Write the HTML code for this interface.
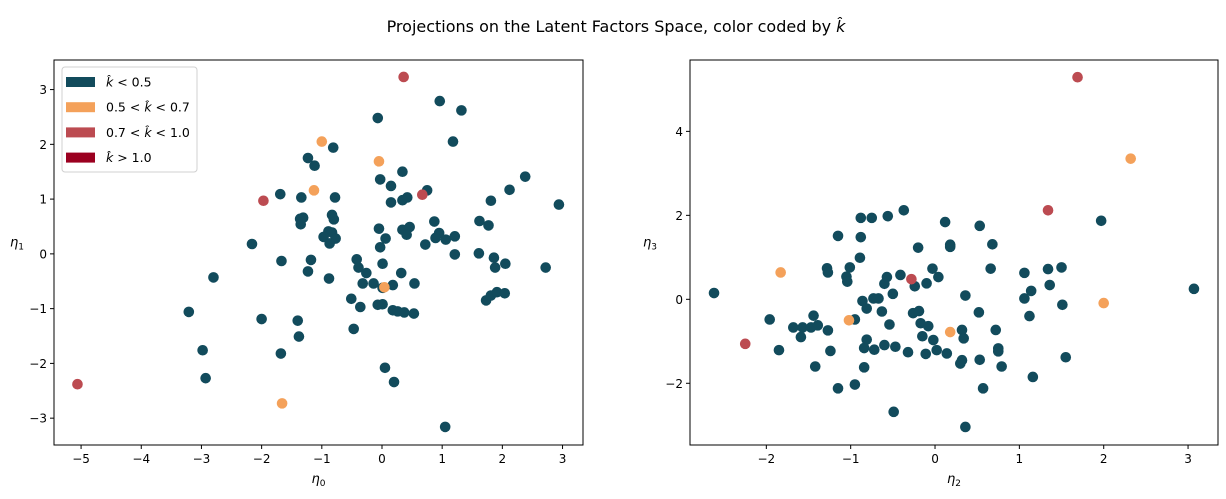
<!DOCTYPE html>
<html><head><meta charset="utf-8"><style>
body{margin:0;background:#fff;}
svg{display:block;font-family:"DejaVu Sans","Liberation Sans",sans-serif;}
</style></head><body>
<svg id="fig" width="1226" height="499" viewBox="0 0 1226 499" xmlns="http://www.w3.org/2000/svg">
<text x="616" y="32" font-size="16" text-anchor="middle">Projections on the Latent Factors Space, color coded by <tspan font-style="italic">k̂</tspan></text>
</svg>
<script>
// Left panel data (eta0, eta1)
const leftTealX=[0.96,1.32,-0.07,1.18,-0.81,-1.23,-1.12,0.34,-0.03,0.15,0.75,2.38,2.12,-1.69,-1.34,-0.78,0.15,0.34,0.42,1.81,2.94,-1.36,-1.31,-1.35,-0.83,-0.80,0.87,1.62,1.77,-0.05,0.34,0.46,0.41,-0.89,-0.83,-0.97,-0.77,-0.87,0.06,0.95,0.89,1.06,1.21,-2.16,-0.03,0.72,1.21,1.61,1.86,1.88,2.05,2.72,-1.67,-1.18,-0.42,-0.39,0.01,-0.26,0.32,-1.23,-0.88,-2.80,-0.32,-0.14,0.01,0.18,0.54,-0.51,-0.36,-0.07,0.01,0.18,0.26,0.37,0.53,1.73,1.81,1.91,2.04,-3.21,-2.00,-1.40,-1.38,-0.47,-2.98,-1.68,-2.93,0.05,0.20,1.05];
const leftTealY=[2.79,2.62,2.48,2.05,1.94,1.75,1.61,1.50,1.36,1.24,1.16,1.41,1.17,1.09,1.03,1.03,0.94,0.98,1.03,0.97,0.90,0.64,0.66,0.54,0.71,0.63,0.59,0.60,0.52,0.46,0.44,0.49,0.35,0.41,0.39,0.31,0.28,0.19,0.28,0.38,0.29,0.26,0.32,0.18,0.12,0.17,-0.01,0.01,-0.07,-0.25,-0.18,-0.25,-0.13,-0.11,-0.10,-0.25,-0.18,-0.35,-0.35,-0.32,-0.45,-0.43,-0.54,-0.54,-0.62,-0.57,-0.54,-0.82,-0.97,-0.93,-0.92,-1.03,-1.05,-1.07,-1.09,-0.85,-0.76,-0.70,-0.72,-1.06,-1.19,-1.22,-1.51,-1.37,-1.76,-1.82,-2.27,-2.08,-2.34,-3.16];
const leftOrangeX=[-1.0,-0.05,-1.13,0.04,-1.66];
const leftOrangeY=[2.05,1.69,1.16,-0.61,-2.73];
const leftRedX=[0.36,-1.97,-5.06,0.67];
const leftRedY=[3.23,0.97,-2.38,1.08];
const leftXTicks=[-5,-4,-3,-2,-1,0,1,2,3];
const leftYTicks=[-3,-2,-1,0,1,2,3];
// Right panel data (eta2, eta3)
const rightTealX=[-2.62,-1.96,-1.68,-1.57,-1.47,-1.39,-1.44,-1.59,-1.85,-1.42,-1.27,-1.24,-1.28,-1.27,-1.15,-1.15,-1.05,-1.04,-1.01,-0.95,-0.95,-0.89,-0.88,-0.88,-0.75,-0.56,-0.37,-0.86,-0.81,-0.81,-0.84,-0.84,-0.72,-0.73,-0.67,-0.63,-0.60,-0.57,-0.54,-0.60,-0.47,-0.50,-0.41,-0.49,-0.32,-0.24,-0.26,-0.19,-0.20,-0.17,-0.15,-0.11,-0.10,-0.08,-0.03,-0.02,0.04,0.02,0.12,0.14,0.18,0.18,0.32,0.34,0.32,0.30,0.36,0.36,0.52,0.53,0.53,0.57,0.66,0.68,0.72,0.75,0.75,0.79,1.06,1.06,1.14,1.12,1.16,1.34,1.36,1.50,1.51,1.55,1.97,3.07];
const rightTealY=[0.15,-0.48,-0.67,-0.67,-0.67,-0.62,-0.39,-0.90,-1.21,-1.60,-0.74,-1.23,0.74,0.64,1.51,-2.12,0.54,0.42,0.76,-0.48,-2.03,0.99,1.48,1.94,1.94,1.98,2.12,-0.04,-0.22,-0.96,-1.16,-1.62,-1.20,0.02,0.02,-0.29,0.37,0.53,-0.60,-1.09,-1.13,0.13,0.58,-2.68,-1.26,0.31,-0.33,-0.28,1.23,-0.57,-0.88,-1.30,0.38,-0.64,0.73,-0.97,0.53,-1.21,1.84,-1.29,1.30,1.25,-0.73,-0.93,-1.45,-1.53,0.09,-3.04,-0.31,1.75,-1.44,-2.12,0.73,1.31,-0.73,-1.17,-1.24,-1.60,0.63,0.02,0.20,-0.40,-1.85,0.72,0.34,0.76,-0.13,-1.38,1.87,0.25];
const rightOrangeX=[2.32,-1.83,2.00,-1.02,0.18];
const rightOrangeY=[3.35,0.64,-0.09,-0.50,-0.78];
const rightRedX=[1.69,1.34,-0.28,-2.25];
const rightRedY=[5.29,2.12,0.48,-1.06];
const rightXTicks=[-2,-1,0,1,2,3];
const rightYTicks=[-2,0,2,4];
const legendLabels=["< 0.5","0.5 < ","0.7 < ","> 1.0"];

const C_TEAL="#124b5c",C_OR="#f4a15a",C_RED="#bc4b51",C_DRED="#9b0020";
const NS="http://www.w3.org/2000/svg";
const svg=document.getElementById('fig');
function mk(tag,attrs,parent){const e=document.createElementNS(NS,tag);for(const k in attrs)e.setAttribute(k,attrs[k]);(parent||svg).appendChild(e);return e;}

function panel(p){
  const g=mk('g',{});
  
  
  const sx=v=>p.x0+(v-p.xmin)/(p.xmax-p.xmin)*(p.x1-p.x0);
  const sy=v=>p.y1-(v-p.ymin)/(p.ymax-p.ymin)*(p.y1-p.y0);
  const series=[[p.tx,p.ty,C_TEAL,'teal'],[p.ox,p.oy,C_OR,'orange'],[p.rx,p.ry,C_RED,'red']];
  series.forEach(s=>{
    for(let i=0;i<s[0].length;i++){
      const c=mk('circle',{cx:sx(s[0][i]),cy:sy(s[1][i]),r:5.3,fill:s[2]},g);
      
      
    }
  });
  const f=mk('rect',{x:p.x0,y:p.y0,width:p.x1-p.x0,height:p.y1-p.y0,fill:'none',stroke:'#000','stroke-width':1},g);
  
  
  p.xt.forEach(t=>{
    const x=sx(t);
    mk('line',{x1:x,x2:x,y1:p.y1,y2:p.y1+4,stroke:'#000'},g);
    const tx=mk('text',{x:x,y:p.y1+18,'font-size':12,'text-anchor':'middle'},g);
    tx.textContent=(t<0?'\u2212'+(-t):t);
    
    
  });
  p.yt.forEach(t=>{
    const y=sy(t);
    mk('line',{x1:p.x0-4,x2:p.x0,y1:y,y2:y,stroke:'#000'},g);
    const tx=mk('text',{x:p.x0-7,y:y+4.5,'font-size':12,'text-anchor':'end'},g);
    tx.textContent=(t<0?'\u2212'+(-t):t);
    
    
  });
  const xl=mk('text',{x:(p.x0+p.x1)/2,y:p.y1+38,'font-size':13,'text-anchor':'middle','font-style':'italic'},g);
  xl.innerHTML='η<tspan font-size="9" dy="3" font-style="normal">'+p.xs+'</tspan>';
  
  
  const yl=mk('text',{x:p.ylx,y:(p.y0+p.y1)/2-6,'font-size':13,'text-anchor':'middle','font-style':'italic'},g);
  yl.innerHTML='η<tspan font-size="9" dy="3" font-style="normal">'+p.ys+'</tspan>';
  
  
}
panel({name:'left-scatter',x0:54,x1:583,y0:60,y1:445,xmin:-5.45,xmax:3.34,ymin:-3.49,ymax:3.54,
  tx:leftTealX,ty:leftTealY,ox:leftOrangeX,oy:leftOrangeY,rx:leftRedX,ry:leftRedY,xt:leftXTicks,yt:leftYTicks,xs:'0',ys:'1',ylx:17});
panel({name:'right-scatter',x0:690,x1:1218,y0:60,y1:445,xmin:-2.905,xmax:3.355,ymin:-3.47,ymax:5.70,
  tx:rightTealX,ty:rightTealY,ox:rightOrangeX,oy:rightOrangeY,rx:rightRedX,ry:rightRedY,xt:rightXTicks,yt:rightYTicks,xs:'2',ys:'3',ylx:650});

// legend
const lg=mk('g',{});


mk('rect',{x:62,y:67,width:135,height:105,rx:3,fill:'#fff','fill-opacity':0.8,stroke:'#d0d0d0'},lg);
const cols=[C_TEAL,C_OR,C_RED,C_DRED];
const texts=['<tspan font-style="italic">k̂</tspan> &lt; 0.5','0.5 &lt; <tspan font-style="italic">k̂</tspan> &lt; 0.7','0.7 &lt; <tspan font-style="italic">k̂</tspan> &lt; 1.0','<tspan font-style="italic">k̂</tspan> &gt; 1.0'];
for(let i=0;i<4;i++){
  const y=82+i*25.2;
  const r=mk('rect',{x:66,y:y-5,width:29,height:10,fill:cols[i]},lg);
  
  
  const t=mk('text',{x:106,y:y+4.5,'font-size':12.5},lg);
  t.innerHTML=texts[i];
  
  
}
</script>
</body></html>
